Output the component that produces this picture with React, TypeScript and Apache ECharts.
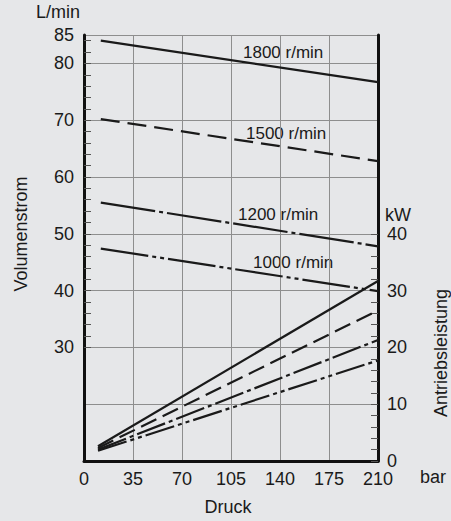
import React, { useEffect, useRef } from "react";
import * as echarts from "echarts";

// Pressure (bar) for the start and end of each curve
const flowPressure = [12, 210];
const powerPressure = [10, 210];

// Volumenstrom (L/min)
const flow1800 = [84.0, 76.7];
const flow1500 = [70.2, 62.8];
const flow1200 = [55.5, 47.8];
const flow1000 = [47.4, 39.9];

// Antriebsleistung (kW)
const power1800 = [2.6, 31.7];
const power1500 = [2.3, 26.5];
const power1200 = [2.0, 21.3];
const power1000 = [1.8, 17.7];

const speedLabels = ["1800 r/min", "1500 r/min", "1200 r/min", "1000 r/min"];

// Axis labels and ticks
const leftLabelValues = [30, 40, 50, 60, 70, 80, 85];
const leftTickValues = [30, 32, 34, 36, 38, 40, 42, 44, 46, 48, 50, 52, 54, 56, 58, 60, 62, 64, 66, 68, 70, 72, 74, 76, 78, 80, 82, 84];
const rightLabelValues = [0, 10, 20, 30, 40];
const rightTickValues = [0, 2, 4, 6, 8, 10, 12, 14, 16, 18, 20, 22, 24, 26, 28, 30, 32, 34, 36, 38, 40];

const FONT = "'Liberation Sans', Arial, Helvetica, sans-serif";
const INK = "#1a1a1a";
const GRID = "#8e8e8e";

const flowDashes: any[] = ["solid", [19, 8], [55, 4, 4, 4], [48, 4, 4, 4, 4, 4]];
const powerDashes: any[] = ["solid", [17, 7], [30, 4, 4, 4], [30, 4, 4, 4, 4, 4]];

function pairs(xs: number[], ys: number[]) {
  return xs.map((x, i) => [x, ys[i]]);
}

export default function App() {
  const ref = useRef<HTMLDivElement>(null);
  useEffect(() => {
    document.body.style.margin = "0";
    document.body.style.background = "#e6e7e9";
    const chart = echarts.init(ref.current!, null, { renderer: "svg" });
    const flows = [flow1800, flow1500, flow1200, flow1000];
    const powers = [power1800, power1500, power1200, power1000];
    const series: any[] = [];
    flows.forEach((f, i) => {
      series.push({
        type: "line",
        name: speedLabels[i],
        yAxisIndex: 0,
        symbol: "none",
        silent: true,
        data: pairs(flowPressure, f),
        lineStyle: { color: INK, width: 2.2, type: flowDashes[i] },
      });
    });
    powers.forEach((p, i) => {
      series.push({
        type: "line",
        name: speedLabels[i] + " kW",
        yAxisIndex: 1,
        symbol: "none",
        silent: true,
        data: pairs(powerPressure, p),
        lineStyle: { color: INK, width: 2.2, type: powerDashes[i] },
      });
    });
    const labelStyle = { fontSize: 18, fontFamily: FONT, fill: INK };
    chart.setOption({
      animation: false,
      backgroundColor: "#e6e7e9",
      textStyle: { fontFamily: FONT },
      grid: { left: 84, right: 73, top: 35, bottom: 60 },
      xAxis: {
        type: "value",
        min: 0,
        max: 210,
        interval: 35,
        axisLine: { show: true, lineStyle: { color: "#111", width: 3 } },
        axisTick: { show: false },
        axisLabel: { fontSize: 18, color: INK, margin: 9, fontFamily: FONT },
        splitLine: { show: true, lineStyle: { color: GRID, width: 1 } },
      },
      yAxis: [
        {
          type: "value",
          position: "left",
          min: 10,
          max: 85,
          interval: 10,
          axisLine: { show: true, lineStyle: { color: "#111", width: 3 } },
          axisTick: { show: false },
          axisLabel: { fontSize: 18, color: INK, margin: 10, fontFamily: FONT, customValues: leftLabelValues },
          splitLine: { show: true, lineStyle: { color: GRID, width: 1 } },
        },
        {
          type: "value",
          position: "right",
          min: 0,
          max: 75,
          interval: 10,
          axisLine: { show: true, lineStyle: { color: "#111", width: 3 } },
          axisTick: { show: true, inside: true, length: 7, lineStyle: { color: "#555", width: 1 }, customValues: rightTickValues },
          axisLabel: { fontSize: 18, color: INK, margin: 9, fontFamily: FONT, customValues: rightLabelValues },
          splitLine: { show: false },
        },
        {
          type: "value",
          position: "left",
          min: 10,
          max: 85,
          axisLine: { show: false },
          axisTick: { show: true, inside: true, length: 7, lineStyle: { color: "#555", width: 1 }, customValues: leftTickValues },
          axisLabel: { show: false },
          splitLine: { show: false },
        },
      ],
      series,
      graphic: [
        { type: "text", left: 36, top: 3, style: { ...labelStyle, text: "L/min" } },
        { type: "text", x: 385, y: 215, style: { ...labelStyle, text: "kW", textVerticalAlign: "middle" } },
        { type: "text", x: 420, y: 477, style: { ...labelStyle, text: "bar", textVerticalAlign: "middle" } },
        { type: "text", x: 228, y: 507, style: { ...labelStyle, text: "Druck", textAlign: "center", textVerticalAlign: "middle" } },
        { type: "text", x: 21, y: 234, rotation: Math.PI / 2, style: { ...labelStyle, text: "Volumenstrom", textAlign: "center", textVerticalAlign: "middle" } },
        { type: "text", x: 441, y: 353, rotation: Math.PI / 2, style: { ...labelStyle, text: "Antriebsleistung", textAlign: "center", textVerticalAlign: "middle" } },
        { type: "text", x: 243, y: 52, style: { ...labelStyle, fontSize: 17, text: speedLabels[0], textVerticalAlign: "middle" } },
        { type: "text", x: 246, y: 133, style: { ...labelStyle, fontSize: 17, text: speedLabels[1], textVerticalAlign: "middle" } },
        { type: "text", x: 238, y: 214, style: { ...labelStyle, fontSize: 17, text: speedLabels[2], textVerticalAlign: "middle" } },
        { type: "text", x: 253, y: 262, style: { ...labelStyle, fontSize: 17, text: speedLabels[3], textVerticalAlign: "middle" } },
      ],
    });
    return () => chart.dispose();
  }, []);
  return <div ref={ref} style={{ width: 451, height: 521 }} />;
}
